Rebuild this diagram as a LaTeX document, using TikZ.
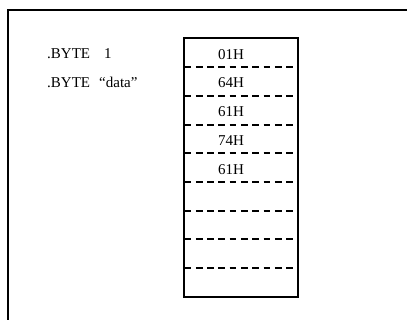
\documentclass[tikz,border=0pt]{standalone}
\usepackage{fontspec}
\setmainfont{Liberation Serif}
\begin{document}
\begin{tikzpicture}[x=1pt,y=-1pt,
  frame/.style={line width=2pt},
  cellsep/.style={line width=2pt, dash pattern=on 6.7pt off 4.6pt},
  lbl/.style={anchor=base west, inner sep=0pt, font=\fontsize{15}{18}\selectfont},
  cell/.style={anchor=base, inner sep=0pt, font=\fontsize{15}{18}\selectfont}]
  \useasboundingbox (0,0) rectangle (407,320);
  % outer frame (open at right and bottom)
  \draw[frame] (7.5,320) -- (7.5,10.5) -- (407,10.5);
  % directive listing
  \node[lbl] (b1) at (47,59) {.BYTE};
  \node[lbl] (v1) at (104,59) {1};
  \node[lbl] (b2) at (47,88) {.BYTE};
  \node[lbl] (v2) at (99,88) {``data''};
  % memory column: nine cells
  \def\rowh{28.7}
  \foreach \i in {1,...,8}
    \draw[cellsep] (184.5,38.5+\i*\rowh) -- (296.5,38.5+\i*\rowh);
  \draw[frame] (183.5,38.5) rectangle (297.5,296.8);
  \foreach \t [count=\i from 0] in {01H,64H,61H,74H,61H}
    \node[cell] (c\i) at (231,38.5+\i*\rowh+20.8) {\t};
\end{tikzpicture}
\end{document}
